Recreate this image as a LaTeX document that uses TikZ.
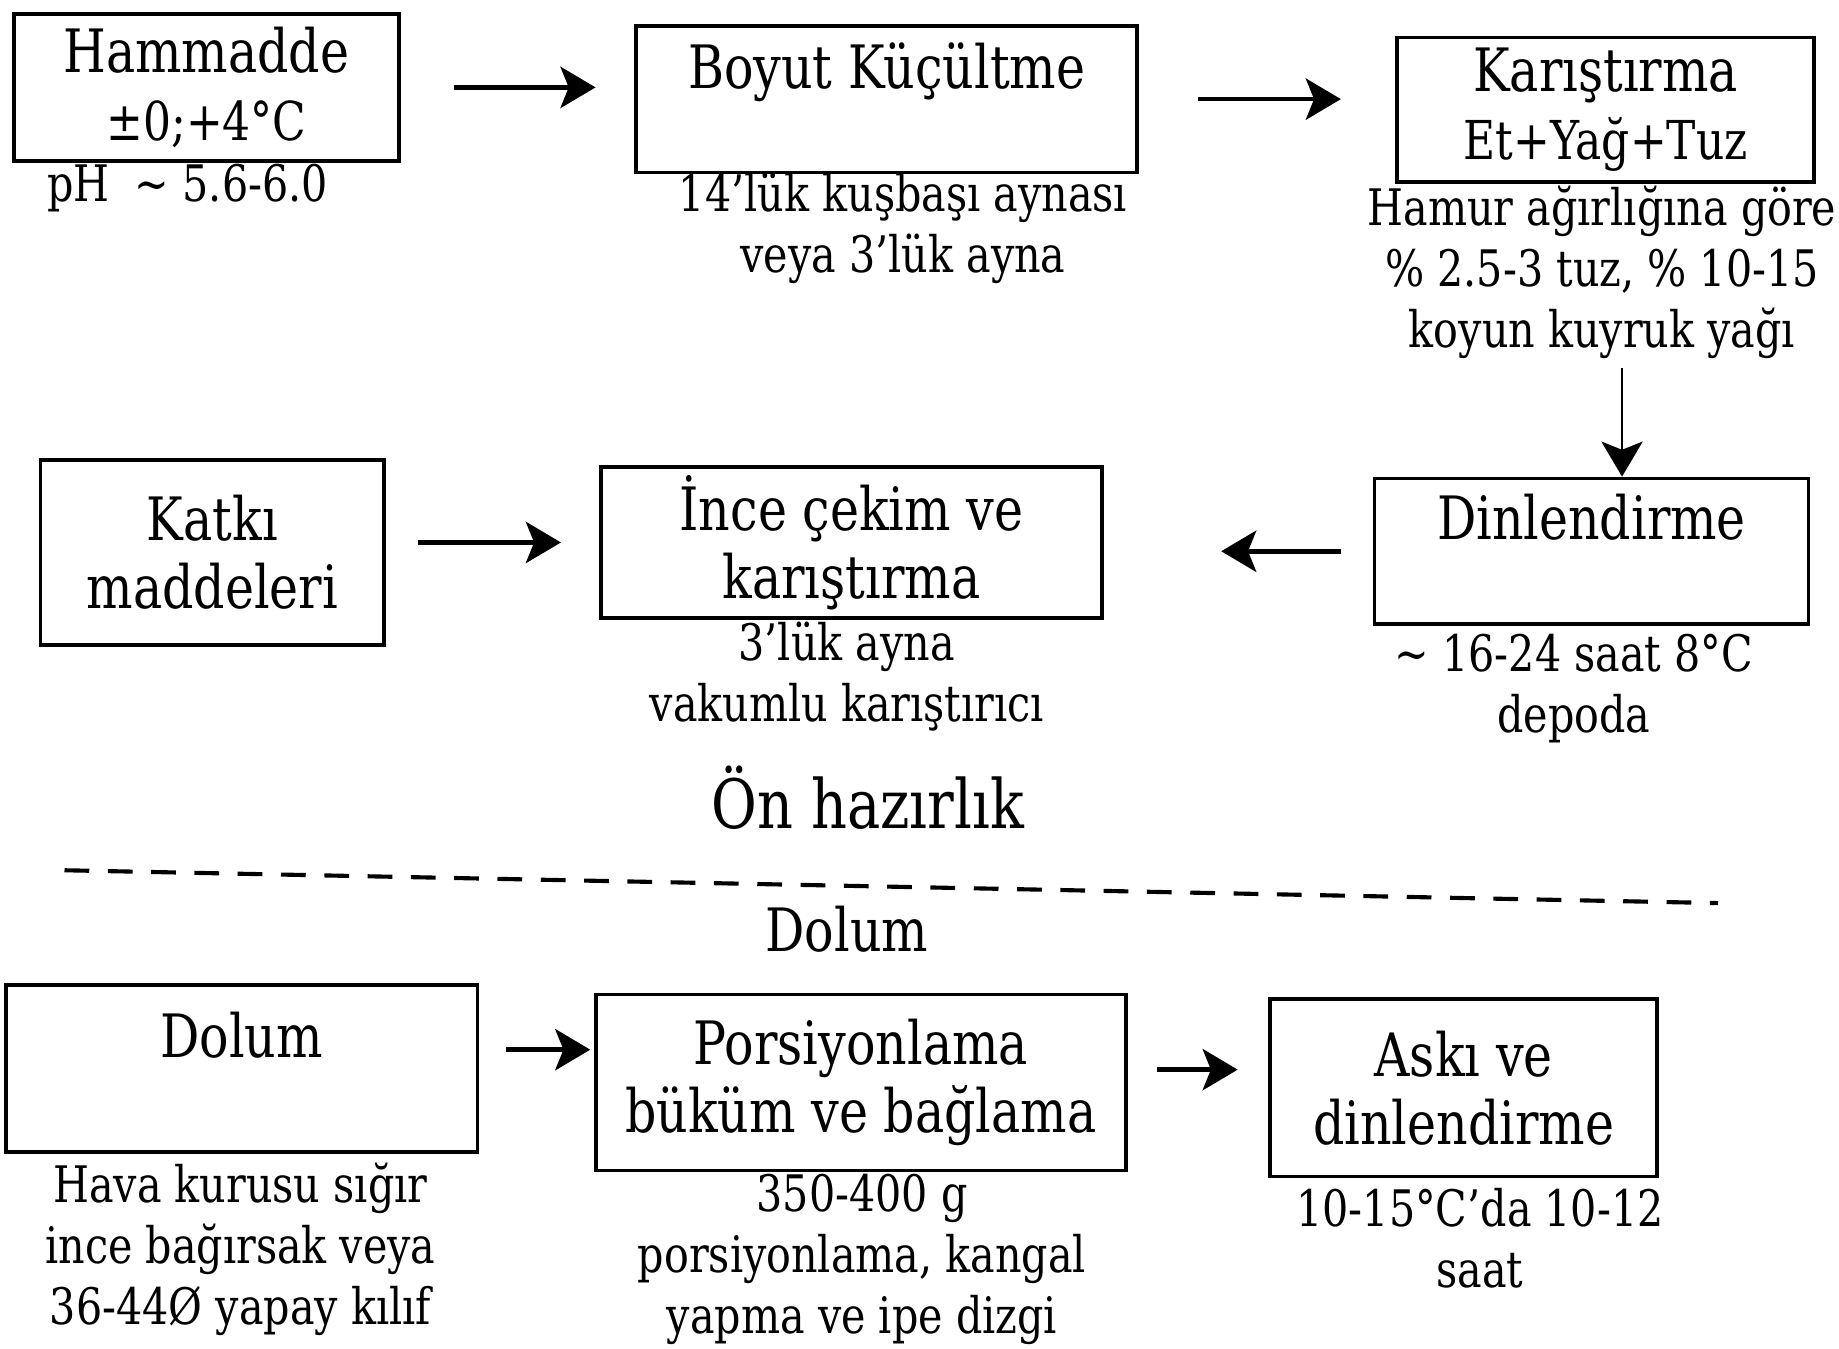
\documentclass[tikz,border=0pt]{standalone}
\usepackage{fontspec}
\setmainfont{DejaVu Serif}[FakeStretch=0.82]
\usetikzlibrary{positioning,arrows.meta}

\begin{document}
\begin{tikzpicture}[
    x=0.01cm, y=-0.01cm,
    >={Stealth[length=8.5pt,width=10pt,inset=2pt]},
    box/.style={draw, rectangle, line width=0.9pt, align=center, inner sep=2pt,
      font=\fontsize{14.5}{16.5}\selectfont},
    note/.style={align=center, inner sep=2pt, font=\fontsize{12.2}{14.8}\selectfont},
    flow/.style={->, line width=1.1pt}
  ]
    \useasboundingbox (0,0) rectangle (1568,1150);
    % Ön hazırlık
    \node[box, minimum width=3.28cm, minimum height=1.25cm] (ham) at (176,74.5) {Hammadde\\{\fontsize{13}{15}\selectfont ±0;+4°C}};
    \node[note] (hamnote) at (160,160) {pH\enspace\textasciitilde{} 5.6-6.0};
    \node[box, minimum width=4.27cm, minimum height=1.25cm] (boyut) at (756,84.5) {Boyut Küçültme\\\mbox{}};
    \node[note] (boyutnote) at (770,195) {14’lük kuşbaşı aynası\\veya 3’lük ayna};
    \node[box, minimum width=3.55cm, minimum height=1.23cm] (kar) at (1369,93.5) {Karıştırma\\{\fontsize{13}{15}\selectfont Et+Yağ+Tuz}};
    \node[note] (karnote) at (1366,232) {Hamur ağırlığına göre\\\% 2.5-3 tuz, \% 10-15\\koyun kuyruk yağı};
    \node[box, minimum width=3.70cm, minimum height=1.24cm] (din) at (1357,470) {Dinlendirme\\\mbox{}};
    \node[note] (dinnote) at (1342,587) {\textasciitilde{} 16-24 saat 8°C\\depoda};
    \node[box, minimum width=4.27cm, minimum height=1.21cm] (ince) at (726,462.5) {İnce çekim ve\\karıştırma};
    \node[note] (incenote) at (722,577) {3’lük ayna\\vakumlu karıştırıcı};
    \node[box, minimum width=2.93cm, minimum height=1.58cm] (katki) at (181,471) {Katkı\\maddeleri};
    \node[font=\fontsize{16.5}{19}\selectfont] (onhaz) at (740,680) {Ön hazırlık};
    % Dolum
    \node[font=\fontsize{14.5}{16.5}\selectfont] (dolumlbl) at (722,792) {Dolum};
    \node[box, minimum width=4.02cm, minimum height=1.42cm] (dolum) at (206,911) {Dolum\\\mbox{}};
    \node[note] (dolumnote) at (205,1065) {Hava kurusu sığır\\ince bağırsak veya\\36-44Ø yapay kılıf};
    \node[box, minimum width=4.52cm, minimum height=1.50cm] (pors) at (734,923) {Porsiyonlama\\büküm ve bağlama};
    \node[note] (porsnote) at (735,1074) {350-400 g\\porsiyonlama, kangal\\yapma ve ipe dizgi};
    \node[box, minimum width=3.30cm, minimum height=1.51cm] (aski) at (1248,927.5) {Askı ve\\dinlendirme};
    \node[note] (askinote) at (1262,1056) {10-15°C’da 10-12\\saat};
    \coordinate (dintop) at ([xshift=0.26cm]din.north);
    % Arrows
    \draw[flow, shorten <=0.45cm, shorten >=0.33cm] (ham.east) -- (ham.east -| boyut.west);
    \draw[flow, shorten <=0.50cm, shorten >=0.465cm] (boyut.east) -- (boyut.east -| kar.west);
    \draw[flow, line width=0.7pt] (dintop |- karnote.south) -- (dintop);
    \draw[flow, shorten <=0.27cm, shorten >=1.0cm] (din.west) -- (din.west -| ince.east);
    \draw[flow, shorten <=0.275cm, shorten >=0.325cm] (ince.west -| katki.east) -- (ince.west);
    \draw[flow, shorten <=0.23cm, shorten >=0.03cm] ([yshift=0.16cm]dolum.east) -- ([yshift=0.16cm]dolum.east -| pors.west);
    \draw[flow, shorten <=0.25cm, shorten >=0.26cm] ([yshift=0.11cm]pors.east) -- ([yshift=0.11cm]pors.east -| aski.west);
    % separator
    \draw[line width=1pt, dash pattern=on 6pt off 4.5pt] (55,742) -- (1465,770);
  \end{tikzpicture}
\end{document}
